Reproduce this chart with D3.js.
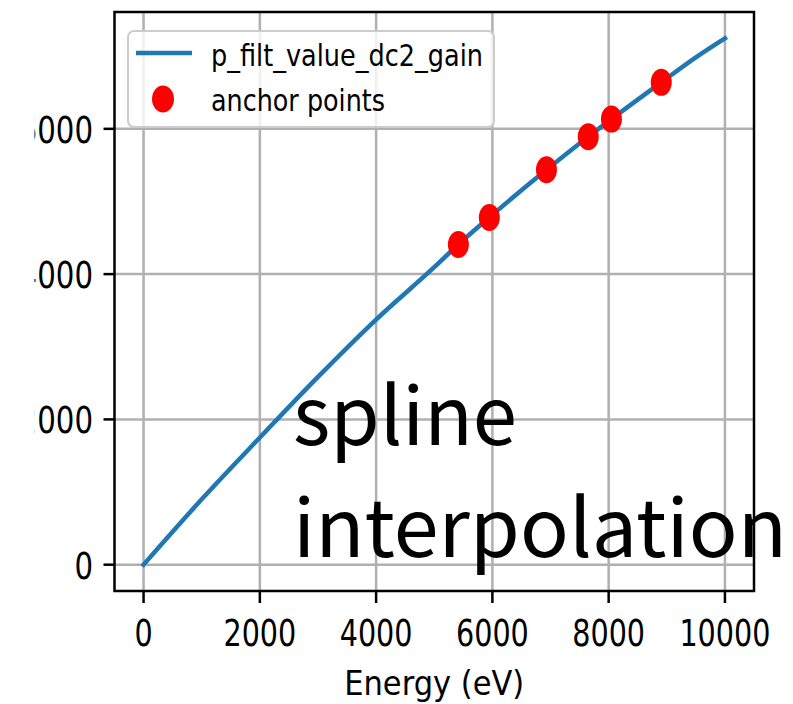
<!DOCTYPE html>
<html>
<head>
<meta charset="utf-8">
<script src="https://cdn.jsdelivr.net/npm/d3@7"></script>
<style>
  html, body { margin: 0; padding: 0; background: #fff; }
  svg { display: block; }
</style>
</head>
<body>
<svg id="chart" width="793" height="704"></svg>
<script>
// Spline of the dc2 gain-corrected filter value versus energy
const energyGrid = [0, 1000, 2000, 3000, 4000, 5000, 5415, 5947, 6930, 7649, 8048, 8905, 9500, 10000];
const gainValues = [0, 900, 1750, 2585, 3375, 4095, 4408, 4780, 5436, 5892, 6134, 6640, 6985, 7246];

// Calibration anchors (Cr, Co, Cu K-alpha / K-beta lines)
const anchorEnergies = [5415, 5947, 6930, 7649, 8048, 8905];
const anchorValues = [4408, 4780, 5436, 5892, 6134, 6640];

const xTicks = [0, 2000, 4000, 6000, 8000, 10000];
const yTicks = [0, 2000, 4000, 6000];

const seriesLabel = "p_filt_value_dc2_gain";
const anchorLabel = "anchor points";
const xAxisTitle = "Energy (eV)";
const noteLines = ["spline", "interpolation"];

const BLUE = "#1f77b4";
const RED = "#ff0000";
const GRID = "#b0b0b0";
const FONT = "DejaVu Sans, sans-serif";

const svg = d3.select("#chart");

const plot = { left: 114.5, right: 754, top: 12, bottom: 591 };

// matplotlib-style 5% margins around the data
const pad = (lo, hi) => { const m = (hi - lo) * 0.05; return [lo - m, hi + m]; };
const x = d3.scaleLinear().domain(pad(0, d3.max(energyGrid))).range([plot.left, plot.right]);
const y = d3.scaleLinear().domain(pad(0, d3.max(gainValues))).range([plot.bottom, plot.top]);

// grid
const grid = svg.append("g");
grid.selectAll("line.gx").data(xTicks).join("line")
  .attr("x1", d => x(d)).attr("x2", d => x(d))
  .attr("y1", plot.top).attr("y2", plot.bottom)
  .attr("stroke", GRID).attr("stroke-width", 2.5);
grid.selectAll("line.gy").data(yTicks).join("line")
  .attr("x1", plot.left).attr("x2", plot.right)
  .attr("y1", d => y(d)).attr("y2", d => y(d))
  .attr("stroke", GRID).attr("stroke-width", 2.5);

// curve
const pts = energyGrid.map((e, i) => [e, gainValues[i]]);
const line = d3.line().x(d => x(d[0])).y(d => y(d[1])).curve(d3.curveMonotoneX);
svg.append("path").datum(pts)
  .attr("d", line)
  .attr("fill", "none")
  .attr("stroke", BLUE)
  .attr("stroke-width", 4.5)
  .attr("stroke-linecap", "square");

// anchor markers
svg.append("g").selectAll("ellipse")
  .data(anchorEnergies.map((e, i) => [e, anchorValues[i]]))
  .join("ellipse")
  .attr("cx", d => x(d[0])).attr("cy", d => y(d[1]))
  .attr("rx", 10.5).attr("ry", 13.5)
  .attr("fill", RED);

// spines
svg.append("rect")
  .attr("x", plot.left).attr("y", plot.top)
  .attr("width", plot.right - plot.left).attr("height", plot.bottom - plot.top)
  .attr("fill", "none").attr("stroke", "#000").attr("stroke-width", 2.5);

// x axis ticks and labels
const xa = svg.append("g");
xa.selectAll("line").data(xTicks).join("line")
  .attr("x1", d => x(d)).attr("x2", d => x(d))
  .attr("y1", plot.bottom).attr("y2", plot.bottom + 12)
  .attr("stroke", "#000").attr("stroke-width", 2.5);
xa.selectAll("text").data(xTicks).join("text")
  .attr("x", d => x(d)).attr("y", 646)
  .attr("text-anchor", "middle")
  .attr("font-family", FONT).attr("font-size", 38)
  .attr("textLength", d => String(d).length * 18.2)
  .attr("lengthAdjust", "spacingAndGlyphs")
  .attr("fill", "#000")
  .text(d => d);

// y axis ticks and labels (left edge of the figure is cut off)
svg.append("defs").append("clipPath").attr("id", "ycut")
  .append("rect").attr("x", 34.5).attr("y", 0).attr("width", 800).attr("height", 704);
const ya = svg.append("g");
ya.selectAll("line").data(yTicks).join("line")
  .attr("x1", plot.left - 11).attr("x2", plot.left)
  .attr("y1", d => y(d)).attr("y2", d => y(d))
  .attr("stroke", "#000").attr("stroke-width", 2.5);
ya.append("g").attr("clip-path", "url(#ycut)")
  .selectAll("text").data(yTicks).join("text")
  .attr("x", 93).attr("y", d => y(d) + 14)
  .attr("text-anchor", "end")
  .attr("font-family", FONT).attr("font-size", 38)
  .attr("textLength", d => String(d).length * 18.6)
  .attr("lengthAdjust", "spacingAndGlyphs")
  .attr("fill", "#000")
  .text(d => d);

// x axis title
svg.append("text")
  .attr("x", (plot.left + plot.right) / 2).attr("y", 695)
  .attr("text-anchor", "middle")
  .attr("font-family", FONT).attr("font-size", 33)
  .attr("textLength", 180).attr("lengthAdjust", "spacingAndGlyphs")
  .attr("fill", "#000")
  .text(xAxisTitle);

// legend
const lg = svg.append("g");
lg.append("rect")
  .attr("x", 128).attr("y", 31).attr("width", 366).attr("height", 96)
  .attr("rx", 6).attr("ry", 6)
  .attr("fill", "#fff").attr("fill-opacity", 0.8)
  .attr("stroke", "#cccccc").attr("stroke-width", 2);
lg.append("line")
  .attr("x1", 136).attr("x2", 192).attr("y1", 53).attr("y2", 53)
  .attr("stroke", BLUE).attr("stroke-width", 4.5);
lg.append("ellipse")
  .attr("cx", 163).attr("cy", 99).attr("rx", 11).attr("ry", 13.5)
  .attr("fill", RED);
lg.append("text")
  .attr("x", 211).attr("y", 66)
  .attr("font-family", FONT).attr("font-size", 31)
  .attr("textLength", 272).attr("lengthAdjust", "spacingAndGlyphs")
  .attr("fill", "#000")
  .text(seriesLabel);
lg.append("text")
  .attr("x", 211).attr("y", 111)
  .attr("font-family", FONT).attr("font-size", 31)
  .attr("textLength", 174).attr("lengthAdjust", "spacingAndGlyphs")
  .attr("fill", "#000")
  .text(anchorLabel);

// annotation
const noteLen = [224, 494];
const noteBase = [445, 557];
svg.append("g").selectAll("text").data(noteLines).join("text")
  .attr("x", 293).attr("y", (d, i) => noteBase[i])
  .attr("font-family", "'Noto Sans CJK JP', sans-serif").attr("font-size", 80)
  .attr("textLength", (d, i) => noteLen[i]).attr("lengthAdjust", "spacingAndGlyphs")
  .attr("fill", "#000")
  .text(d => d);
</script>
</body>
</html>
